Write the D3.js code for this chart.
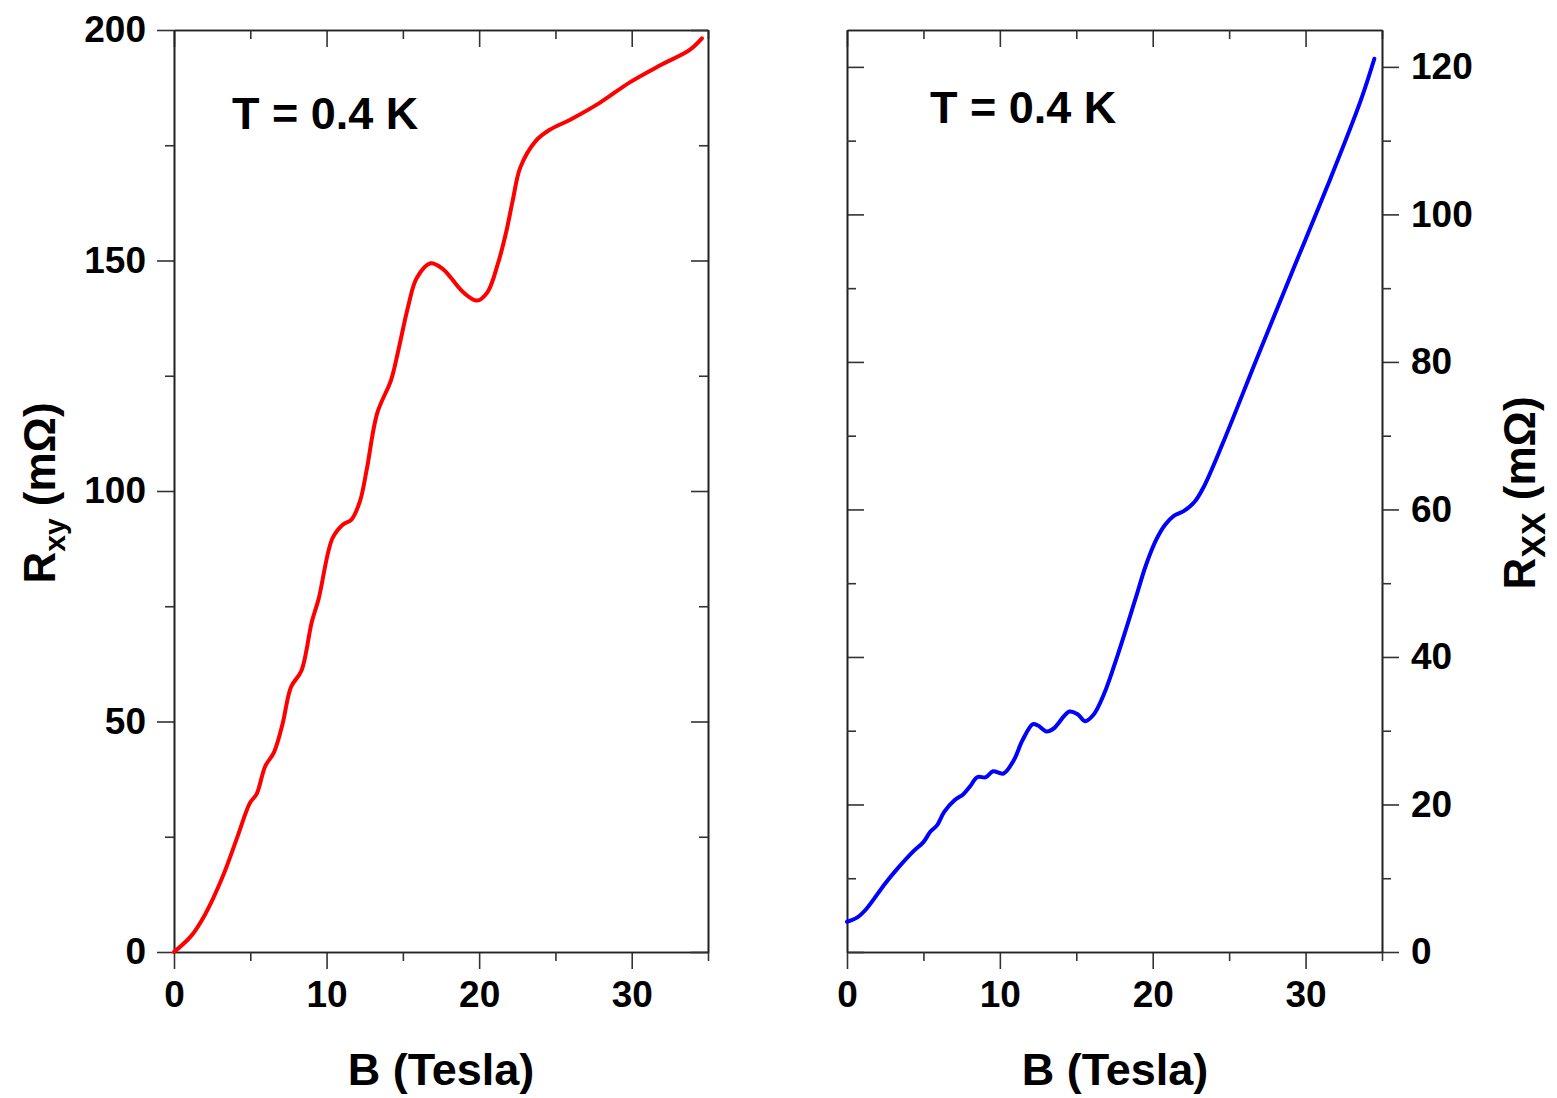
<!DOCTYPE html>
<html>
<head>
<meta charset="utf-8">
<script src="https://cdn.jsdelivr.net/npm/d3@7"></script>
<style>
body { margin: 0; background: #fff; }
text { font-family: "Liberation Sans", Arial, Helvetica, sans-serif; font-weight: bold; }
</style>
</head>
<body>
<div id="plot"></div>
<script>
// Hall resistance, left panel
var bxy = [0, 1.13, 2.03, 3.16, 4.18, 4.97, 5.42, 5.98, 6.55, 7.11, 7.67, 8.35, 9.03, 9.48, 10.38, 11.06, 11.63, 12.19, 12.64, 13.32, 14.22, 14.67, 15.35, 15.91, 16.82, 17.61, 18.96, 19.86, 20.54, 21.22, 21.78, 22.2, 22.7, 23.7, 24.6, 26.0, 27.9, 29.9, 31.9, 33.8, 34.6];
var rxy = [0, 3.5, 8.1, 16.1, 25.2, 32.3, 34.3, 40.3, 43.3, 49.4, 57.5, 61.0, 71.6, 76.6, 89.7, 92.7, 93.8, 97.8, 104.8, 116.9, 124.0, 130.0, 140.1, 146.2, 149.4, 148.2, 143.1, 141.3, 143.1, 149.2, 156.3, 163.0, 170.2, 175.9, 178.3, 180.6, 184.2, 188.7, 192.4, 195.7, 198.2];

// longitudinal resistance, right panel
var bxx = [0, 0.68, 1.25, 2.5, 3.3, 4.32, 5.0, 5.45, 5.9, 6.36, 7.05, 7.61, 8.07, 8.52, 9.09, 9.55, 10.23, 10.91, 11.48, 12.16, 12.5, 13.07, 13.52, 14.55, 15.11, 15.57, 16.14, 16.82, 17.73, 18.86, 19.55, 20.23, 20.8, 21.36, 22.05, 22.73, 23.3, 24.55, 26.8, 29.1, 31.4, 33.6, 34.5];
var rxx = [4.1, 4.7, 5.8, 9.3, 11.3, 13.6, 14.9, 16.3, 17.2, 19.0, 20.6, 21.4, 22.5, 23.7, 23.7, 24.5, 24.2, 26.0, 28.7, 30.9, 30.7, 29.9, 30.3, 32.6, 32.2, 31.3, 32.2, 35.0, 40.4, 47.8, 52.4, 55.9, 57.9, 59.1, 59.8, 61.0, 62.9, 68.8, 80.4, 92.1, 103.7, 115.4, 121.1];

var bTicks = [0, 10, 20, 30];
var bMinor = [5, 15, 25, 35];
var rxyTicks = [0, 50, 100, 150, 200];
var rxyMinor = [25, 75, 125, 175];
var rxxTicks = [0, 20, 40, 60, 80, 100, 120];
var rxxMinor = [10, 30, 50, 70, 90, 110];

var tempLabel = "T = 0.4 K";
var xTitle = "B (Tesla)";

var svgwidth = 1557;
var svgheight = 1098;
var plotTop = 30, plotBottom = 952;

var svg = d3.select('#plot').append('svg')
    .attr('width', svgwidth)
    .attr('height', svgheight);

function frameX(g, x) {
    // outward ticks at the bottom, inward at the top
    var xAxis = d3.axisBottom(x).tickValues(bTicks).tickSize(17).tickSizeOuter(0).tickPadding(12);
    var gx = g.append('g').attr('transform', 'translate(0,' + plotBottom + ')').call(xAxis);
    gx.selectAll('text').style('font-size', '37px').attr('fill', '#000');
    g.append('g').attr('transform', 'translate(0,' + plotBottom + ')')
        .call(d3.axisBottom(x).tickValues(bMinor).tickSize(9).tickSizeOuter(0).tickFormat(''));
    g.append('g').attr('transform', 'translate(0,' + plotTop + ')')
        .call(d3.axisBottom(x).tickValues(bTicks).tickSize(17).tickSizeOuter(0).tickFormat(''));
    g.append('g').attr('transform', 'translate(0,' + plotTop + ')')
        .call(d3.axisBottom(x).tickValues(bMinor).tickSize(9).tickSizeOuter(0).tickFormat(''));
}

function styleAxes(g) {
    g.selectAll('.domain').attr('stroke', '#222').attr('stroke-width', 1.6);
    g.selectAll('.tick line').attr('stroke', '#333').attr('stroke-width', 1.6);
}

// ---- left panel ----
var x1 = d3.scaleLinear().domain([0, 35]).range([174, 708]);
var y1 = d3.scaleLinear().domain([0, 200]).range([plotBottom, plotTop]);
var g1 = svg.append('g');
frameX(g1, x1);

var yAxis1 = d3.axisLeft(y1).tickValues(rxyTicks).tickSize(17).tickSizeOuter(0).tickPadding(11);
g1.append('g').attr('transform', 'translate(174,0)').call(yAxis1)
    .selectAll('text').style('font-size', '37px').attr('fill', '#000');
g1.append('g').attr('transform', 'translate(174,0)')
    .call(d3.axisLeft(y1).tickValues(rxyMinor).tickSize(9).tickSizeOuter(0).tickFormat(''));
g1.append('g').attr('transform', 'translate(708,0)')
    .call(d3.axisRight(y1).tickValues(rxyTicks).tickSize(-17).tickSizeOuter(0).tickFormat(''));
g1.append('g').attr('transform', 'translate(708,0)')
    .call(d3.axisRight(y1).tickValues(rxyMinor).tickSize(-9).tickSizeOuter(0).tickFormat(''));
styleAxes(g1);

var line1 = d3.line()
    .x(function(d, i){ return x1(bxy[i]); })
    .y(function(d){ return y1(d); })
    .curve(d3.curveCatmullRom.alpha(0.5));
g1.append('path').datum(rxy)
    .attr('d', line1)
    .attr('fill', 'none')
    .attr('stroke', '#ff0000')
    .attr('stroke-width', 4)
    .attr('stroke-linecap', 'round');

g1.append('text').attr('x', 232).attr('y', 129).style('font-size', '45px').text(tempLabel);
g1.append('text').attr('x', 441).attr('y', 1085).attr('text-anchor', 'middle').style('font-size', '45px').text(xTitle);

var t1 = g1.append('text')
    .attr('transform', 'translate(55,493) rotate(-90)')
    .attr('text-anchor', 'middle')
    .style('font-size', '44px');
t1.append('tspan').text('R');
t1.append('tspan').attr('dy', 10).style('font-size', '30px').text('xy');
t1.append('tspan').attr('dy', -10).text(' (m\u03A9)');

// ---- right panel ----
var x2 = d3.scaleLinear().domain([0, 35]).range([847, 1382]);
var y2 = d3.scaleLinear().domain([0, 125]).range([plotBottom, plotTop]);
var g2 = svg.append('g');
frameX(g2, x2);

var yAxis2 = d3.axisRight(y2).tickValues(rxxTicks).tickSize(17).tickSizeOuter(0).tickPadding(12);
g2.append('g').attr('transform', 'translate(1382,0)').call(yAxis2)
    .selectAll('text').style('font-size', '37px').attr('fill', '#000');
g2.append('g').attr('transform', 'translate(1382,0)')
    .call(d3.axisRight(y2).tickValues(rxxMinor).tickSize(9).tickSizeOuter(0).tickFormat(''));
g2.append('g').attr('transform', 'translate(847,0)')
    .call(d3.axisLeft(y2).tickValues(rxxTicks).tickSize(-17).tickSizeOuter(0).tickFormat(''));
g2.append('g').attr('transform', 'translate(847,0)')
    .call(d3.axisLeft(y2).tickValues(rxxMinor).tickSize(-9).tickSizeOuter(0).tickFormat(''));
styleAxes(g2);

var line2 = d3.line()
    .x(function(d, i){ return x2(bxx[i]); })
    .y(function(d){ return y2(d); })
    .curve(d3.curveCatmullRom.alpha(0.5));
g2.append('path').datum(rxx)
    .attr('d', line2)
    .attr('fill', 'none')
    .attr('stroke', '#0000ff')
    .attr('stroke-width', 4)
    .attr('stroke-linecap', 'round');

g2.append('text').attr('x', 930).attr('y', 123).style('font-size', '45px').text(tempLabel);
g2.append('text').attr('x', 1115).attr('y', 1085).attr('text-anchor', 'middle').style('font-size', '45px').text(xTitle);

var t2 = g2.append('text')
    .attr('transform', 'translate(1535,493) rotate(-90)')
    .attr('text-anchor', 'middle')
    .style('font-size', '44px');
t2.append('tspan').text('R');
t2.append('tspan').attr('dy', 10).style('font-size', '34px').text('XX');
t2.append('tspan').attr('dy', -10).text(' (m\u03A9)');
</script>
</body>
</html>
